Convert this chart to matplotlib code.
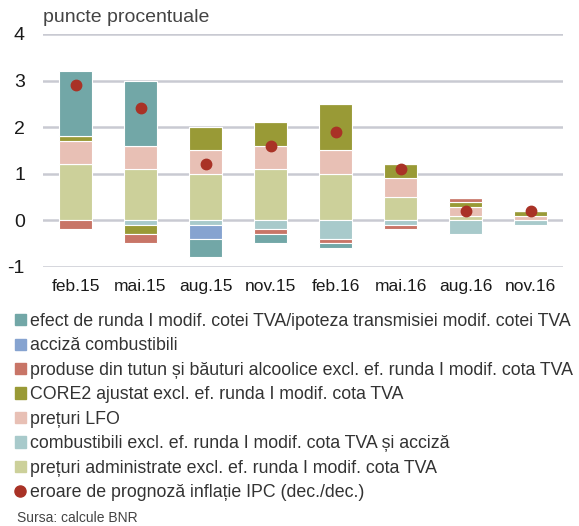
import matplotlib
matplotlib.use("Agg")
import matplotlib.pyplot as plt
import matplotlib.patches as mpatches
from matplotlib.lines import Line2D
import numpy as np

plt.rcParams['font.family'] = ['Liberation Sans', 'DejaVu Sans']

categories = ["feb.15", "mai.15", "aug.15", "nov.15", "feb.16", "mai.16", "aug.16", "nov.16"]

# stacking order from zero outwards
administrate = [1.2, 1.1, 1.0, 1.1, 1.0, 0.5, 0.08, 0.0]
combustibili = [0.0, -0.1, -0.1, -0.2, -0.4, -0.1, -0.3, -0.1]
lfo = [0.5, 0.5, 0.5, 0.5, 0.5, 0.4, 0.2, 0.1]
core2 = [0.1, -0.2, 0.5, 0.5, 1.0, 0.3, 0.1, 0.1]
tutun = [-0.2, -0.2, 0.0, -0.1, -0.1, -0.1, 0.1, 0.0]
acciza = [0.0, 0.0, -0.3, 0.0, 0.0, 0.0, 0.0, 0.0]
efect_tva = [1.4, 1.4, -0.4, -0.2, -0.1, 0.0, 0.0, 0.0]
eroare = [2.9, 2.4, 1.2, 1.6, 1.9, 1.1, 0.2, 0.2]

series = [
    (administrate, "#ccd09a", "prețuri administrate excl. ef. runda I modif. cota TVA"),
    (combustibili, "#a8cacb", "combustibili excl. ef. runda I modif. cota TVA și acciză"),
    (lfo, "#e8c0b5", "prețuri LFO"),
    (core2, "#999a36", "CORE2 ajustat excl. ef. runda I modif. cota TVA"),
    (tutun, "#c87567", "produse din tutun și băuturi alcoolice excl. ef. runda I modif. cota TVA"),
    (acciza, "#86a3d0", "acciză combustibili"),
    (efect_tva, "#72a7a7", "efect de runda I modif. cotei TVA/ipoteza transmisiei modif. cotei TVA"),
]

fig = plt.figure(figsize=(5.79, 5.26), dpi=100)
ax = fig.add_axes([43 / 579, 1 - 266.7 / 526, 520 / 579, (266.7 - 34) / 526])

x = np.arange(len(categories))
pos = np.zeros(len(categories))
neg = np.zeros(len(categories))
for vals, color, label in series:
    v = np.array(vals)
    bottom = np.where(v >= 0, pos, neg)
    ax.bar(x, v, 0.5, bottom=bottom, color=color, edgecolor="white", linewidth=0.8, zorder=3)
    pos += np.where(v >= 0, v, 0)
    neg += np.where(v < 0, v, 0)

ax.plot(x, eroare, "o", color="#a93226", markersize=7.5, zorder=4)

ax.set_xlim(-0.5, len(categories) - 0.5)
ax.set_ylim(-1, 4)
ax.set_yticks(range(-1, 5))
ax.grid(axis="y", color="#c9cad2", linewidth=1.8, zorder=0)
for s in ax.spines.values():
    s.set_visible(False)
ax.tick_params(length=0)
ax.tick_params(axis="y", pad=13)
ax.tick_params(axis="x", pad=9)
ax.set_xticks(x)
ax.set_xticklabels(categories, fontsize=12.5, color="#1a1a1a")
ax.set_yticklabels([str(t) for t in range(-1, 5)], fontsize=14, color="#1a1a1a")
for lbl in ax.get_yticklabels():
    lbl.set_horizontalalignment("right")

fig.text(43 / 579, 1 - 18 / 526, "puncte procentuale", fontsize=14, color="#444444", va="center")

handles = [mpatches.Patch(color=c, label=l) for _, c, l in reversed(series)]
handles.append(Line2D([], [], marker="o", linestyle="none", color="#a93226",
                      markersize=8, label="eroare de prognoză inflație IPC (dec./dec.)"))
fig.legend(handles=handles, loc="upper left", bbox_to_anchor=(15 / 579, 1 - 313 / 526),
           frameon=False, fontsize=12.8, handlelength=0.6, handleheight=0.6,
           handletextpad=0.25, labelspacing=0.42, borderaxespad=0, borderpad=0,
           labelcolor="#333333")

fig.text(17 / 579, 1 - 518 / 526, "Sursa: calcule BNR", fontsize=10, color="#444444", va="center")

fig.savefig("out.png", dpi=100)
